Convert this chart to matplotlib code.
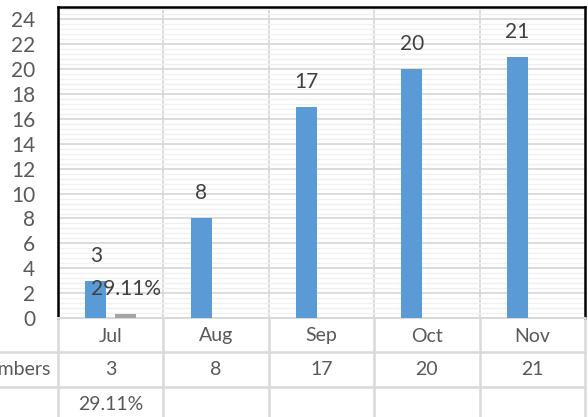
import matplotlib
matplotlib.use("Agg")
import matplotlib.pyplot as plt
import matplotlib.transforms as mtransforms
from matplotlib.lines import Line2D
import numpy as np

categories = ["Jul", "Aug", "Sep", "Oct", "Nov"]
numbers = [3, 8, 17, 20, 21]
share = [0.2911, None, None, None, None]
row1_label = "Numbers"
row2_label = ""

plt.rcParams['font.family'] = ['Lato', 'DejaVu Sans']

W, H = 588, 417
fig = plt.figure(figsize=(W / 100, H / 100), dpi=100)
ax_l, ax_r, ax_t, ax_b = 58, 585, 7, 318
ax = fig.add_axes([ax_l / W, 1 - ax_b / H, (ax_r - ax_l) / W, (ax_b - ax_t) / H])

x = np.arange(len(categories))
bw = 0.2
off = 0.142
blue = "#5b9bd5"
grey = "#a5a5a5"
txt = "#595959"
lab = "#404040"
gridc = "#d9d9d9"

ax.bar(x - off, numbers, width=bw, color=blue, zorder=3)
sv = [v if v is not None else 0 for v in share]
ax.bar(x + off, sv, width=bw, color=grey, zorder=3)

for xi, v in zip(x, numbers):
    ax.annotate(str(v), (xi - off, v), xytext=(0, 25), textcoords='offset pixels',
                ha='center', va='center', fontsize=15, color=lab, zorder=5)
for xi, v in zip(x, share):
    if v is not None:
        ax.annotate(f"{v*100:.2f}%", (xi + off, v), xytext=(0, 25), textcoords='offset pixels',
                    ha='center', va='center', fontsize=15, color=lab, zorder=5)

ax.set_xlim(-0.5, len(categories) - 0.5)
ax.set_ylim(0, 25)
ax.set_yticks(np.arange(0, 25, 2))
ax.set_yticks(np.arange(0, 25.01, 0.4), minor=True)
ax.set_xticks([])
ax.set_xticks(np.arange(0.5, len(categories) - 0.5, 1), minor=True)
ax.tick_params(axis='y', which='both', length=0, pad=16.5, labelsize=15, labelcolor=txt)
ax.tick_params(axis='x', which='both', length=0, labelbottom=False)
ax.grid(axis='y', which='major', color=gridc, lw=1.3, zorder=1)
ax.grid(axis='y', which='minor', color="#f0f0f0", lw=1.0, zorder=0)
ax.grid(axis='x', which='minor', color=gridc, lw=1.3, zorder=1)
ax.set_axisbelow(True)
for s in ['left', 'top', 'right']:
    ax.spines[s].set_color('black')
    ax.spines[s].set_linewidth(1.8)
ax.spines['bottom'].set_color(gridc)
ax.spines['bottom'].set_linewidth(1.5)

# data table
blend = mtransforms.blended_transform_factory(ax.transData, fig.transFigure)
def fy(py):
    return 1 - py / H
def fx(px):
    return px / W

r0, r1, r2, r3 = ax_b, 352, 387, 425
for ry in [r1, r2]:
    fig.add_artist(Line2D([0, fx(ax_r)], [fy(ry), fy(ry)], color=gridc, lw=1.8))
for b in np.arange(-0.5, len(categories) + 0.5, 1):
    fig.add_artist(Line2D([b, b], [fy(r0), fy(r3)], color=gridc, lw=1.8, transform=blend))

tfs = 14
for xi, c in zip(x, categories):
    fig.text(xi, fy((r0 + r1) / 2 + 1), c, transform=blend, ha='center', va='center',
             fontsize=tfs, color=txt)
for xi, v in zip(x, numbers):
    fig.text(xi, fy((r1 + r2) / 2), str(v), transform=blend, ha='center', va='center',
             fontsize=tfs, color=txt)
for xi, v in zip(x, share):
    if v is not None:
        fig.text(xi, fy(404), f"{v*100:.2f}%", transform=blend, ha='center',
                 va='center', fontsize=tfs, color=txt)
fig.text(fx(51), fy((r1 + r2) / 2), row1_label, ha='right', va='center', fontsize=tfs, color=txt)

fig.savefig("out.png", dpi=100)
